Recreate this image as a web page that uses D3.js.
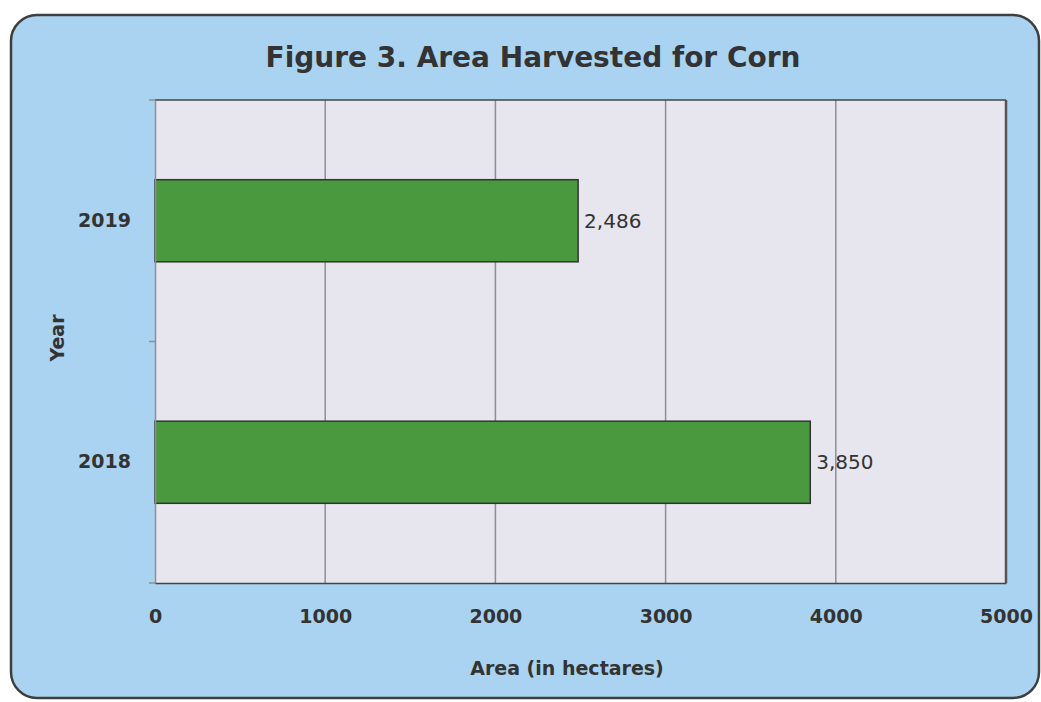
<!DOCTYPE html>
<html>
<head>
<meta charset="utf-8">
<script src="https://cdnjs.cloudflare.com/ajax/libs/d3/7.8.5/d3.min.js"></script>
<style>
  body { margin: 0; background: #fff; }
  svg { display: block; }
</style>
</head>
<body>
<div id="chart"></div>
<script>
var years = ["2019", "2018"];
var areas = [2486, 3850];
var xTicks = [0, 1000, 2000, 3000, 4000, 5000];

var W = 1041, H = 702;
var margin = {left: 155, right: 35, top: 100, bottom: 119};
var width = W - margin.left - margin.right,
    height = H - margin.top - margin.bottom;

var font = "'DejaVu Sans', sans-serif";
var textCol = "#333";

var x = d3.scaleLinear().domain([0, 5000]).range([0, width]);
var y = d3.scaleBand().domain(years).range([0, height]).paddingInner(0.66).paddingOuter(0.33);

var svg = d3.select("#chart").append("svg")
  .attr("width", W)
  .attr("height", H);

// panel
svg.append("rect")
  .attr("x", 11).attr("y", 15)
  .attr("width", 1028).attr("height", 683)
  .attr("rx", 26)
  .style("fill", "#a9d3f1")
  .style("stroke", "#3e3e3e")
  .style("stroke-width", 2.5);

//Title
svg.append("text")
  .attr("x", 533)
  .attr("y", 67)
  .style("text-anchor", "middle")
  .style("font-family", font)
  .style("font-weight", "bold")
  .style("font-size", "28px")
  .style("fill", textCol)
  .text("Figure 3. Area Harvested for Corn");

var g = svg.append("g")
  .attr("transform", "translate(" + margin.left + "," + margin.top + ")");

// plot area
g.append("rect")
  .attr("width", width).attr("height", height)
  .style("fill", "#e7e5ee");

// gridlines
g.selectAll(".grid")
  .data(xTicks.slice(1))
  .enter().append("line")
  .attr("x1", function(d){ return x(d); })
  .attr("x2", function(d){ return x(d); })
  .attr("y1", 0).attr("y2", height)
  .style("stroke", "#8f8d96")
  .style("stroke-width", 1.5);

// plot border
g.append("line").attr("x1", 0).attr("x2", width).attr("y1", 0).attr("y2", 0)
  .style("stroke", "#444").style("stroke-width", 1.5);
g.append("line").attr("x1", width).attr("x2", width).attr("y1", 0).attr("y2", height)
  .style("stroke", "#555").style("stroke-width", 2.5);

// bars
g.selectAll(".bar")
  .data(areas)
  .enter().append("rect")
  .attr("class", "bar")
  .attr("x", 0)
  .attr("y", function(d, i){ return y(years[i]); })
  .attr("width", function(d){ return x(d); })
  .attr("height", y.bandwidth())
  .style("fill", "#4b993f")
  .style("stroke", "#333")
  .style("stroke-width", 1.5);

// value labels
g.selectAll(".val")
  .data(areas)
  .enter().append("text")
  .attr("x", function(d){ return x(d) + 6; })
  .attr("y", function(d, i){ return y(years[i]) + y.bandwidth() / 2; })
  .attr("dy", "0.35em")
  .style("font-family", font)
  .style("font-size", "20px")
  .style("fill", textCol)
  .text(function(d){ return d3.format(",")(d); });

// Y axis
var yAxis = g.append("g")
  .call(d3.axisLeft(y).tickSize(0).tickPadding(24));
yAxis.select(".domain").style("stroke", "#8f8d96").style("stroke-width", 1.5);
yAxis.selectAll("text")
  .style("font-family", font)
  .style("font-weight", "bold")
  .style("font-size", "19px")
  .style("fill", textCol);

// y ticks at band edges
g.selectAll(".ytick")
  .data([0, height / 2, height])
  .enter().append("line")
  .attr("x1", -6).attr("x2", 0)
  .attr("y1", function(d){ return d; }).attr("y2", function(d){ return d; })
  .style("stroke", "#8f8d96").style("stroke-width", 1.5);

// X axis
var xAxis = g.append("g")
  .attr("transform", "translate(0," + height + ")")
  .call(d3.axisBottom(x).tickValues(xTicks).tickFormat(d3.format("d")).tickSize(0).tickPadding(27));
xAxis.select(".domain").style("stroke", "#444").style("stroke-width", 1.5);
xAxis.selectAll("text")
  .style("font-family", font)
  .style("font-weight", "bold")
  .style("font-size", "19px")
  .style("fill", textCol);

//Label for X axis
svg.append("text")
  .attr("x", 567)
  .attr("y", 675)
  .style("text-anchor", "middle")
  .style("font-family", font)
  .style("font-weight", "bold")
  .style("font-size", "19px")
  .style("fill", textCol)
  .text("Area (in hectares)");

//Label for Y axis
svg.append("text")
  .attr("transform", "translate(64,338) rotate(-90)")
  .style("text-anchor", "middle")
  .style("font-family", font)
  .style("font-weight", "bold")
  .style("font-size", "19px")
  .style("fill", textCol)
  .text("Year");
</script>
</body>
</html>
